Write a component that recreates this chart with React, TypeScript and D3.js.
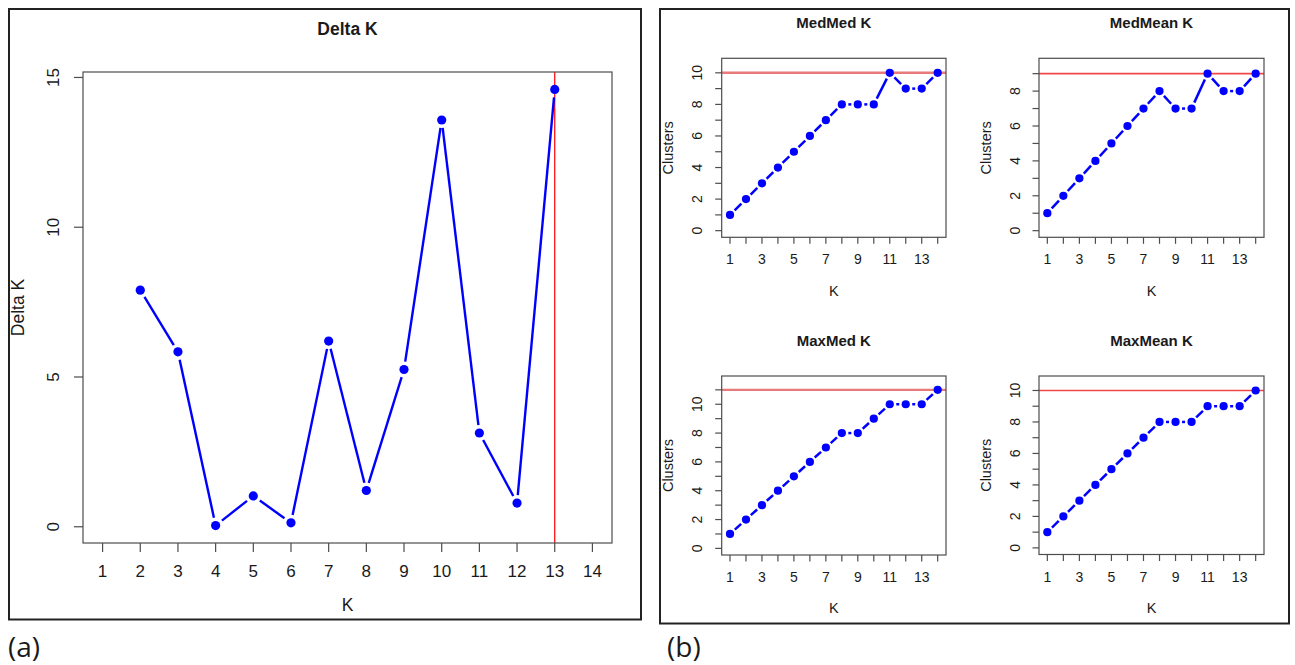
import React from "react";
import * as d3 from "d3";

const W = 1295;
const H = 665;

// K values on the x axis
const kAll = [1, 2, 3, 4, 5, 6, 7, 8, 9, 10, 11, 12, 13, 14];

// panel (a): Delta K
const deltaK = [2, 3, 4, 5, 6, 7, 8, 9, 10, 11, 12, 13];
const deltaVals = [7.9, 5.84, 0.04, 1.03, 0.13, 6.2, 1.21, 5.25, 13.58, 3.13, 0.79, 14.6];
const deltaYTicks = [0, 5, 10, 15];
const deltaBest = 13;

// panel (b): clusters per K
const medMed = [1, 2, 3, 4, 5, 6, 7, 8, 8, 8, 10, 9, 9, 10];
const medMean = [1, 2, 3, 4, 5, 6, 7, 8, 7, 7, 9, 8, 8, 9];
const maxMed = [1, 2, 3, 4, 5, 6, 7, 8, 8, 9, 10, 10, 10, 11];
const maxMean = [1, 2, 3, 4, 5, 6, 7, 8, 8, 8, 9, 9, 9, 10];
const subTitles = ["MedMed K", "MedMean K", "MaxMed K", "MaxMean K"];

const FONT = "'Liberation Sans', Arial, sans-serif";
const TXT = "#1a1a1a";
const AX = "#4d4d4d";

// R style 4% padding
const pad = ([a, b]) => {
  const p = (b - a) * 0.04;
  return [a - p, b + p];
};

function Plot({ box, xs, ys, yDomain, yTicks, yLabeled, xLabeled, title, ylab, vline, hline, refStyle, st }) {
  const x = d3.scaleLinear().domain(pad([kAll[0], kAll[kAll.length - 1]])).range([box.l, box.r]);
  const y = d3.scaleLinear().domain(pad(yDomain)).range([box.b, box.t]);

  const pts = xs.map((k, i) => [x(k), y(ys[i])]);
  const segs = [];
  for (let i = 0; i < pts.length - 1; i++) {
    const [x1, y1] = pts[i];
    const [x2, y2] = pts[i + 1];
    const len = Math.hypot(x2 - x1, y2 - y1);
    if (len <= 2 * st.gap) continue;
    const ux = (x2 - x1) / len;
    const uy = (y2 - y1) / len;
    segs.push([x1 + ux * st.gap, y1 + uy * st.gap, x2 - ux * st.gap, y2 - uy * st.gap]);
  }

  const cx = (box.l + box.r) / 2;
  const cy = (box.t + box.b) / 2;

  return (
    <g fontFamily={FONT} fill={TXT}>
      <text x={cx} y={box.t + st.titleDy} textAnchor="middle" fontWeight="bold" fontSize={st.fsTitle}>
        {title}
      </text>

      {/* reference lines */}
      {vline != null && (
        <line x1={x(vline)} x2={x(vline)} y1={box.t} y2={box.b} stroke={refStyle.color} strokeWidth={refStyle.width} />
      )}
      {hline != null && (
        <line x1={box.l} x2={box.r} y1={y(hline)} y2={y(hline)} stroke={refStyle.color} strokeWidth={refStyle.width} />
      )}

      {/* data */}
      {segs.map((s, i) => (
        <line key={i} x1={s[0]} y1={s[1]} x2={s[2]} y2={s[3]} stroke="#0000ff" strokeWidth={st.lw} />
      ))}
      {pts.map((p, i) => (
        <circle key={i} cx={p[0]} cy={p[1]} r={st.r} fill="#0000ff" />
      ))}

      <rect x={box.l} y={box.t} width={box.r - box.l} height={box.b - box.t} fill="none" stroke={AX} strokeWidth={1.2} />

      {/* x axis */}
      {kAll.map((k) => (
        <g key={k}>
          <line x1={x(k)} x2={x(k)} y1={box.b} y2={box.b + st.tick} stroke={AX} strokeWidth={1.2} />
          {xLabeled(k) && (
            <text x={x(k)} y={box.b + st.xTickDy} dy="0.36em" textAnchor="middle" fontSize={st.fsTick}>
              {k}
            </text>
          )}
        </g>
      ))}
      <text x={cx} y={box.b + st.xlabDy} dy="0.36em" textAnchor="middle" fontSize={st.fsLab}>
        K
      </text>

      {/* y axis */}
      {yTicks.map((v) => (
        <g key={v}>
          <line x1={box.l - st.tick} x2={box.l} y1={y(v)} y2={y(v)} stroke={AX} strokeWidth={1.2} />
          {yLabeled(v) && (
            <text
              transform={`translate(${box.l - st.yTickDx},${y(v)}) rotate(-90)`}
              dy="0.36em"
              textAnchor="middle"
              fontSize={st.fsTick}
            >
              {v}
            </text>
          )}
        </g>
      ))}
      <text transform={`translate(${box.l - st.ylabDx},${cy}) rotate(-90)`} dy="0.36em" textAnchor="middle" fontSize={st.fsLab}>
        {ylab}
      </text>
    </g>
  );
}

const styleA = {
  gap: 8, lw: 2.4, r: 4.6, tick: 9,
  fsTick: 17, fsLab: 17.5, fsTitle: 17.5,
  titleDy: -37, xTickDy: 28, xlabDy: 62, yTickDx: 30, ylabDx: 65,
};
const styleB = {
  gap: 6.5, lw: 2.5, r: 4.1, tick: 6.5,
  fsTick: 14, fsLab: 14.5, fsTitle: 15,
  titleDy: -30, xTickDy: 22, xlabDy: 53, yTickDx: 24.5, ylabDx: 53.5,
};

const subBoxes = [
  { l: 721.7, r: 946, t: 58.3, b: 237.3 },
  { l: 1039, r: 1264, t: 58.3, b: 237.3 },
  { l: 721.7, r: 946, t: 376, b: 555 },
  { l: 1039, r: 1264, t: 376, b: 554.5 },
];
const subRef = [
  { color: "#e87a7a", width: 2.4 },
  { color: "#f04848", width: 1.6 },
  { color: "#e87a7a", width: 2.4 },
  { color: "#f04848", width: 1.6 },
];

export default function App() {
  const series = [medMed, medMean, maxMed, maxMean];
  return (
    <svg width={W} height={H} style={{ position: "absolute", left: 0, top: 0, display: "block", background: "#fff" }}>
      <rect x={0} y={0} width={W} height={H} fill="#fff" />

      {/* panel (a) */}
      <rect x={9} y={9} width={632} height={610.5} fill="none" stroke="#222" strokeWidth={2} />
      <Plot
        box={{ l: 83, r: 612, t: 72, b: 543 }}
        xs={deltaK}
        ys={deltaVals}
        yDomain={d3.extent(deltaVals)}
        yTicks={deltaYTicks}
        yLabeled={() => true}
        xLabeled={() => true}
        title="Delta K"
        ylab="Delta K"
        vline={deltaBest}
        refStyle={{ color: "#ff0000", width: 1.2 }}
        st={styleA}
      />

      {/* panel (b) */}
      <rect x={660} y={9} width={629} height={614.5} fill="none" stroke="#222" strokeWidth={2} />
      {series.map((s, i) => {
        const top = d3.max(s);
        return (
          <Plot
            key={i}
            box={subBoxes[i]}
            xs={kAll}
            ys={s}
            yDomain={[0, top + 0.5]}
            yTicks={d3.range(0, top + 1)}
            yLabeled={(v) => v % 2 === 0}
            xLabeled={(k) => k % 2 === 1}
            title={subTitles[i]}
            ylab="Clusters"
            hline={top}
            refStyle={subRef[i]}
            st={styleB}
          />
        );
      })}

      <text x={8} y={657} fontFamily="'Open Sans', Calibri, sans-serif" fontSize={28} fill={TXT}>
        (a)
      </text>
      <text x={667} y={657} fontFamily="'Open Sans', Calibri, sans-serif" fontSize={28} fill={TXT}>
        (b)
      </text>
    </svg>
  );
}
